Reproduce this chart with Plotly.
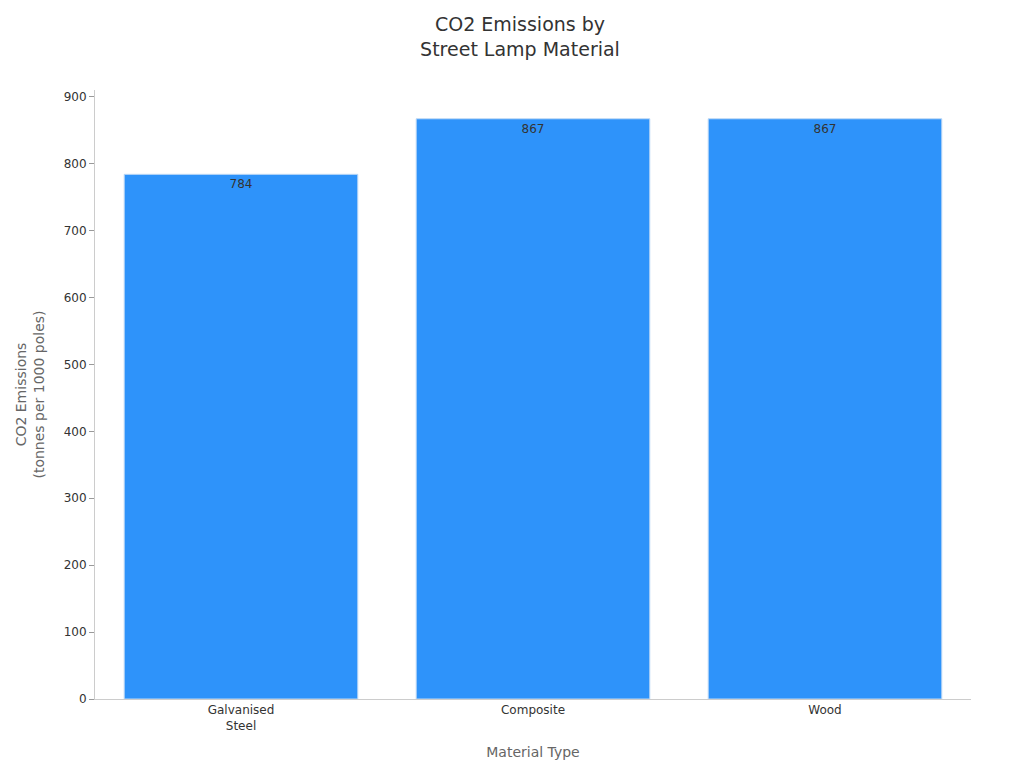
import plotly.graph_objects as go

materials = ["Galvanised<br>Steel", "Composite", "Wood"]
emissions = [784, 867, 867]

fig = go.Figure(go.Bar(
    x=materials, y=emissions, text=emissions, textposition="inside",
    insidetextanchor="end", textfont=dict(color="#333333", size=12),
    marker=dict(color="#2E93FA", line=dict(color="#BFD9F5", width=1)),
))
fig.update_layout(
    width=1024, height=768, template="simple_white",
    font=dict(family="DejaVu Sans", size=12, color="#333333"),
    title=dict(text="CO2 Emissions by<br>Street Lamp Material", x=0.5, xanchor="center",
               y=0.97, yanchor="top", font=dict(size=19, color="#333333")),
    margin=dict(l=87, r=61, t=82, b=77),
    bargap=0.2, showlegend=False,
    xaxis=dict(title=dict(text="Material Type", font=dict(size=14, color="#666666")),
               linecolor="#CCCCCC", ticks="", tickfont=dict(size=12)),
    yaxis=dict(title=dict(text="CO2 Emissions<br>(tonnes per 1000 poles)", font=dict(size=14, color="#666666")),
               range=[0, 910], dtick=100, linecolor="#CCCCCC", ticks="outside",
               tickcolor="#999999", ticklen=5, tickfont=dict(size=12)),
)
fig.write_html("out.html")
